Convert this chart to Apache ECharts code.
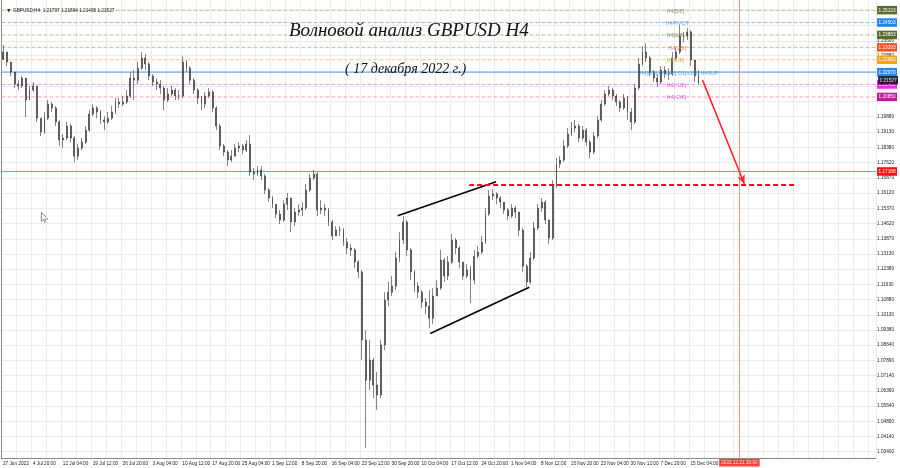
<!DOCTYPE html>
<html><head><meta charset="utf-8">
<script src="https://cdn.jsdelivr.net/npm/echarts@6/dist/echarts.min.js"></script>
<style>html,body{margin:0;padding:0;background:#fff}#c{width:900px;height:468px}</style>
</head><body><div id="c"></div>
<script>
// ---- DATA (GBPUSD H4, each bar = 4 H4 candles) ----
const firstOpen = 1.2270;
const closes = [1.2306,1.2257,1.2208,1.2149,1.2139,1.2178,1.2070,1.2119,1.2139,1.1981,
1.1913,1.1981,1.2050,1.2031,1.1962,1.1873,1.1883,1.1942,1.1883,1.1794,
1.1834,1.1863,1.1922,1.2001,1.2031,1.2011,1.1972,1.1962,1.1981,1.2011,
1.2060,1.2050,1.2060,1.2090,1.2178,1.2168,1.2227,1.2277,1.2247,1.2188,
1.2159,1.2149,1.2129,1.2070,1.2100,1.2119,1.2090,1.2090,1.2257,1.2227,
1.2168,1.2119,1.2080,1.2050,1.2090,1.2109,1.2031,1.1942,1.1844,1.1814,
1.1775,1.1794,1.1834,1.1844,1.1824,1.1854,1.1716,1.1706,1.1726,1.1696,
1.1627,1.1588,1.1558,1.1509,1.1480,1.1558,1.1588,1.1470,1.1519,1.1529,
1.1539,1.1627,1.1686,1.1706,1.1529,1.1539,1.1529,1.1470,1.1401,1.1430,
1.1430,1.1371,1.1342,1.1332,1.1273,1.1224,1.0889,1.0692,1.0791,1.0668,
1.0619,1.0865,1.1086,1.1125,1.1155,1.1293,1.1381,1.1470,1.1332,1.1224,
1.1155,1.1125,1.1076,1.1056,1.0997,1.1106,1.1145,1.1283,1.1204,1.1273,
1.1381,1.1342,1.1273,1.1204,1.1234,1.1184,1.1302,1.1322,1.1371,1.1509,
1.1598,1.1608,1.1588,1.1568,1.1529,1.1499,1.1539,1.1519,1.1430,1.1253,
1.1175,1.1293,1.1440,1.1539,1.1568,1.1480,1.1391,1.1647,1.1755,1.1775,
1.1844,1.1903,1.1932,1.1942,1.1883,1.1922,1.1863,1.1814,1.1893,1.1972,
1.2050,1.2100,1.2119,1.2090,1.2060,1.2031,1.2080,1.2011,1.1962,1.2129,
1.2247,1.2306,1.2277,1.2208,1.2178,1.2159,1.2218,1.2198,1.2198,1.2277,
1.2306,1.2385,1.2385,1.2405,1.2267,1.2188,1.2153];
const highs = [1.2341,1.2306,1.2257,1.2208,1.2168,1.2188,1.2178,1.2139,1.2159,1.2139,
1.1981,1.2011,1.2070,1.2060,1.2040,1.1972,1.1903,1.1962,1.1952,1.1893,
1.1854,1.1883,1.1942,1.2021,1.2050,1.2040,1.2021,1.1991,1.2011,1.2040,
1.2080,1.2080,1.2090,1.2119,1.2208,1.2218,1.2257,1.2306,1.2296,1.2257,
1.2198,1.2178,1.2168,1.2139,1.2129,1.2139,1.2129,1.2119,1.2286,1.2267,
1.2237,1.2178,1.2129,1.2090,1.2109,1.2129,1.2119,1.2040,1.1952,1.1854,
1.1824,1.1824,1.1854,1.1863,1.1854,1.1873,1.1898,1.1735,1.1745,1.1745,
1.1706,1.1637,1.1598,1.1558,1.1529,1.1578,1.1612,1.1588,1.1539,1.1558,
1.1568,1.1657,1.1706,1.1726,1.1716,1.1578,1.1558,1.1539,1.1480,1.1450,
1.1450,1.1440,1.1391,1.1362,1.1342,1.1283,1.1234,1.0938,1.0889,1.0801,
1.0732,1.0889,1.1125,1.1175,1.1204,1.1322,1.1421,1.1499,1.1480,1.1342,
1.1234,1.1175,1.1135,1.1096,1.1135,1.1145,1.1184,1.1332,1.1293,1.1302,
1.1411,1.1391,1.1352,1.1273,1.1263,1.1253,1.1332,1.1352,1.1401,1.1539,
1.1627,1.1632,1.1617,1.1598,1.1568,1.1539,1.1558,1.1549,1.1519,1.1440,
1.1263,1.1322,1.1470,1.1558,1.1588,1.1578,1.1480,1.1676,1.1785,1.1794,
1.1873,1.1932,1.1962,1.1972,1.1952,1.1942,1.1932,1.1873,1.1913,1.1991,
1.2070,1.2119,1.2139,1.2129,1.2100,1.2070,1.2100,1.2090,1.2031,1.2149,
1.2277,1.2336,1.2350,1.2286,1.2218,1.2198,1.2237,1.2237,1.2227,1.2306,
1.2326,1.2439,1.2405,1.2424,1.2414,1.2257,1.2218];
const lows = [1.2286,1.2237,1.2188,1.2129,1.2119,1.2129,1.1986,1.2070,1.2109,1.1962,
1.1893,1.1903,1.1972,1.2011,1.1942,1.1844,1.1834,1.1873,1.1863,1.1765,
1.1775,1.1824,1.1854,1.1913,1.1991,1.1981,1.1952,1.1922,1.1952,1.1972,
1.2001,1.2031,1.2040,1.2050,1.2080,1.2070,1.2149,1.2218,1.2218,1.2168,
1.2139,1.2119,1.2100,1.2021,1.2060,1.2090,1.2070,1.2070,1.2080,1.2208,
1.2149,1.2100,1.2050,1.2021,1.2031,1.2080,1.2011,1.1922,1.1824,1.1794,
1.1745,1.1765,1.1794,1.1814,1.1804,1.1814,1.1696,1.1676,1.1696,1.1676,
1.1608,1.1568,1.1539,1.1490,1.1460,1.1470,1.1529,1.1421,1.1450,1.1499,
1.1499,1.1529,1.1617,1.1676,1.1499,1.1509,1.1499,1.1450,1.1381,1.1401,
1.1401,1.1352,1.1312,1.1302,1.1243,1.1194,1.0791,1.0358,1.0643,1.0604,
1.0545,1.0604,1.0840,1.1056,1.1106,1.1135,1.1273,1.1362,1.1302,1.1184,
1.1125,1.1096,1.1047,1.1017,1.0948,1.0968,1.1106,1.1135,1.1175,1.1184,
1.1263,1.1312,1.1243,1.1184,1.1194,1.1071,1.1165,1.1293,1.1312,1.1362,
1.1499,1.1578,1.1558,1.1539,1.1509,1.1480,1.1490,1.1490,1.1401,1.1224,
1.1150,1.1165,1.1283,1.1430,1.1519,1.1460,1.1362,1.1381,1.1637,1.1735,
1.1765,1.1834,1.1893,1.1913,1.1863,1.1873,1.1844,1.1785,1.1804,1.1883,
1.1962,1.2040,1.2090,1.2070,1.2040,1.2011,1.2021,1.1972,1.1922,1.1952,
1.2119,1.2237,1.2257,1.2188,1.2159,1.2134,1.2149,1.2178,1.2168,1.2188,
1.2267,1.2296,1.2355,1.2365,1.2237,1.2159,1.2149];

const timeLabels = ['27 Jun 2022','4 Jul 20:00','12 Jul 04:00','19 Jul 12:00','26 Jul 20:00','3 Aug 04:00',
'10 Aug 12:00','17 Aug 20:00','25 Aug 04:00','1 Sep 12:00','8 Sep 20:00','16 Sep 04:00','23 Sep 12:00',
'30 Sep 20:00','10 Oct 04:00','17 Oct 12:00','24 Oct 20:00','1 Nov 04:00','8 Nov 12:00','15 Nov 20:00',
'23 Nov 04:00','30 Nov 12:00','7 Dec 20:00','15 Dec 04:00'];
const priceLabels = [1.23600,1.22880,1.19880,1.19130,1.18380,1.17620,1.16870,1.16120,1.15370,1.14620,
1.13870,1.13130,1.12380,1.11630,1.10880,1.10130,1.09380,1.08640,1.07890,1.07140,1.06390,1.05640,
1.04890,1.04140,1.03400];
const gridPrices = [1.0340,1.0414,1.0489,1.0564,1.0639,1.0714,1.0789,1.0864,1.0938,1.1013,1.1088,1.1163,
1.1238,1.1313,1.1387,1.1462,1.1537,1.1612,1.1687,1.1762,1.1838,1.1913,1.1988,1.2063,1.2138,1.2213,
1.2288,1.2360,1.2437,1.2512];

// Murrey levels and other price marks
const levelPrices = [1.25123,1.24513,1.23903,1.23293,1.22683,1.22073,1.21463,1.20853];
const levelBoxText = ['1.25123','1.24503','1.23883','1.23293','1.22683','1.22070','1.21460','1.20850'];
const levelNames = ['H4[5/8]','H4PIVOT','H4[3/8]','H4[2/8]','H4[1/8]','H4[0/8] D1[3/8] D1[+1/8] H4SUP','H4[-1/8]','H4[-2/8]'];
const levelNameX = [712,711,712,714,712,683,712,712]; // in H4 bar units
const currentPrice = 1.21527;
const currentText = '1.21527';
const redLevel = 1.17188;
const redLevelText = '1.17188';
const targetLevel = 1.1652;
const targetSpan = [500.7, 851];
const channelUpper = [[424.2,1.1501],[529.6,1.1668]];
const channelLower = [[459.1,1.0922],[565.1,1.1149]];
const arrowPath = [[750.6,1.2168],[795.4,1.1657]];
const futureTime = 790.1;
const futureLabel = '2022.12.21 20:00';
const headerText = 'GBPUSD,H4  1.21797 1.21894 1.21495 1.21527';

// ---- styles ----
const levelLineColors = ['#bcbc98','#8fc0f2','#bcbc98','#f5ab92','#f4cb90','#4f9de8','#f29ef2','#eca2d4'];
const levelLineTypes = ['dashed','dashed','dashed','dashed','dashed','solid','dashed','dashed'];
const levelBoxColors = ['#5b6b2e','#2484ee','#5b6b2e','#f2541e','#f7a21f','#2c86e8','#ff24ff','#c2189c'];
const levelTextColors = ['#6f7d3f','#3d8fe0','#6f7d3f','#e46b39','#e09a34','#3d8fe0','#ff2dff','#d03fae'];

const TOTAL_H4 = 936.4;
const Y_MIN = 1.03091, Y_MAX = 1.25622;
const NCAT = 234;
const FONT = 'Liberation Sans';
const AX_FS = 4.7;

const cats = [];
for (let i = 0; i < NCAT; i++) cats.push(String(i));
const candle = [];
for (let i = 0; i < NCAT; i++) {
  if (i < closes.length) {
    const o = i === 0 ? firstOpen : closes[i - 1];
    candle.push([o, closes[i], lows[i], highs[i]]);
  } else candle.push('-');
}

// right-axis boxes as rich axis labels
const boxValues = levelPrices.concat([redLevel]);
const boxTexts = levelBoxText.concat([redLevelText]);
const boxColors = levelBoxColors.concat(['#ff1010']);
const rich = {p: {fontSize: AX_FS, fontFamily: FONT, color: '#222'}};
boxColors.forEach((c, k) => {
  rich['b' + k] = {backgroundColor: c, color: '#fff', fontSize: AX_FS, fontFamily: FONT, padding: [2, 1.5, 1.5, 1.5]};
});
const yLabelValues = priceLabels.concat(boxValues);
function yFmt(v) {
  for (let k = 0; k < boxValues.length; k++) {
    if (Math.abs(v - boxValues[k]) < 1e-7) return '{b' + k + '|' + boxTexts[k] + '}';
  }
  return '{p|' + v.toFixed(5) + '}';
}

const series = [];
series.push({type: 'candlestick', xAxisIndex: 0, yAxisIndex: 0, data: candle, barWidth: 1.4, z: 5,
  itemStyle: {color: '#454545', color0: '#454545', borderColor: '#333', borderColor0: '#333', borderWidth: 0.6}});
// horizontal level lines
levelPrices.forEach((p, k) => {
  series.push({type: 'line', xAxisIndex: 1, yAxisIndex: 0, silent: true, symbol: 'none', z: 2,
    data: [[0, p], [TOTAL_H4, p]],
    lineStyle: {color: levelLineColors[k], type: levelLineTypes[k], width: 1}});
});
series.push({type: 'line', xAxisIndex: 1, yAxisIndex: 0, silent: true, symbol: 'none', z: 3,
  data: [[0, redLevel], [TOTAL_H4, redLevel]], color: '#ff7070', itemStyle: {color: '#ff7070'},
  lineStyle: {color: '#ff7070', width: 1, opacity: 1}});
// vertical future line
series.push({type: 'line', xAxisIndex: 1, yAxisIndex: 0, silent: true, symbol: 'none', z: 2,
  data: [[futureTime, Y_MIN], [futureTime, Y_MAX]], color: '#f08a8a', itemStyle: {color: '#f08a8a'},
  lineStyle: {color: '#f08a8a', width: 1}});
// channel lines
[channelUpper, channelLower].forEach(seg => {
  series.push({type: 'line', xAxisIndex: 1, yAxisIndex: 0, silent: true, symbol: 'none', z: 6,
    data: seg, lineStyle: {color: '#000', width: 1.6}});
});
// target dashed line
series.push({type: 'line', xAxisIndex: 1, yAxisIndex: 0, silent: true, symbol: 'none', z: 6,
  data: [[targetSpan[0], targetLevel], [targetSpan[1], targetLevel]],
  lineStyle: {color: '#e8141e', width: 2, type: [5, 3]}});
// arrow
series.push({type: 'line', xAxisIndex: 1, yAxisIndex: 0, data: [], silent: true,
  markLine: {silent: true, symbol: ['none', 'arrow'], symbolSize: [6, 9], animation: false, label: {show: false},
    data: [[{coord: arrowPath[0]}, {coord: arrowPath[1]}]],
    lineStyle: {color: '#ff2a2a', width: 1.6, type: 'solid'}}});
// future time label box at the bottom
series.push({type: 'scatter', xAxisIndex: 1, yAxisIndex: 0, symbolSize: 0, silent: true, clip: false,
  data: [[futureTime, Y_MIN]],
  label: {show: true, position: 'bottom', distance: 1, formatter: futureLabel, backgroundColor: '#ff1010',
    color: '#fff', fontSize: AX_FS, fontFamily: FONT, padding: [1.5, 2, 1, 2]}});
// current price box (black) on the right axis
series.push({type: 'scatter', xAxisIndex: 1, yAxisIndex: 0, symbolSize: 0, silent: true, clip: false, z: 10,
  data: [[TOTAL_H4, currentPrice]],
  label: {show: true, position: 'right', distance: 2, offset: [0, -3], formatter: currentText, backgroundColor: '#000',
    color: '#fff', fontSize: AX_FS, fontFamily: FONT, padding: [2, 1.5, 1.5, 1.5]}});
// level names
series.push({type: 'scatter', xAxisIndex: 1, yAxisIndex: 0, symbolSize: 0, silent: true, z: 7,
  data: levelPrices.map((p, k) => ({value: [levelNameX[k], p], name: levelNames[k], label: {color: levelTextColors[k]}})),
  label: {show: true, position: 'right', distance: 0, offset: [0, 1], formatter: p => p.name, fontSize: 5.5, fontFamily: FONT}});

const chart = echarts.init(document.getElementById('c'), null, {renderer: 'canvas'});
chart.setOption({
  animation: false,
  backgroundColor: '#ffffff',
  title: [
    {text: 'Волновой анализ GBPUSD H4', left: 284, top: 16,
      textStyle: {fontFamily: 'Liberation Serif', fontStyle: 'italic', fontWeight: 'normal', fontSize: 19, color: '#111'}},
    {text: '( 17 декабря 2022 г.)', left: 340, top: 57,
      textStyle: {fontFamily: 'Liberation Serif', fontStyle: 'italic', fontWeight: 'normal', fontSize: 14, color: '#111'}},
    {text: '▼', left: 2, top: 3, textStyle: {fontFamily: 'DejaVu Sans', fontWeight: 'normal', fontSize: 4.5, color: '#333'}},
    {text: headerText, left: 8, top: 3,
      textStyle: {fontFamily: FONT, fontWeight: 'normal', fontSize: AX_FS, color: '#222'}}
  ],
  graphic: [{type: 'polygon', left: 41, top: 212, silent: true,
    shape: {points: [[0,0],[0,9],[2,7],[4,11],[5.5,10.5],[3.5,6.5],[6.5,6.5]]},
    style: {fill: '#fff', stroke: '#666', lineWidth: 0.8}}],
  grid: {left: 0, right: 23, top: 0, bottom: 10, containLabel: false},
  xAxis: [
    {type: 'category', data: cats, show: false, boundaryGap: true},
    {type: 'value', min: 0, max: TOTAL_H4, interval: 16, position: 'bottom',
      axisLine: {show: true, lineStyle: {color: '#8a8a8a'}},
      axisTick: {show: false},
      splitLine: {show: true, lineStyle: {color: '#ececec', width: 1}},
      axisLabel: {show: true, showMaxLabel: false, align: 'left', margin: 3, fontSize: AX_FS, fontFamily: FONT, color: '#222',
        padding: [0, 0, 0, 1.5],
        formatter: v => (v % 32 === 0 && v / 32 < timeLabels.length) ? timeLabels[v / 32] : ''}}
  ],
  yAxis: [{type: 'value', position: 'right', min: Y_MIN, max: Y_MAX,
    axisLine: {show: true, lineStyle: {color: '#8a8a8a'}},
    axisTick: {show: false, customValues: gridPrices},
    splitLine: {show: true, lineStyle: {color: '#ececec', width: 1}},
    axisLabel: {show: true, customValues: yLabelValues, margin: 1, formatter: yFmt, rich: rich}}],
  series: series
});
</script>
</body></html>
